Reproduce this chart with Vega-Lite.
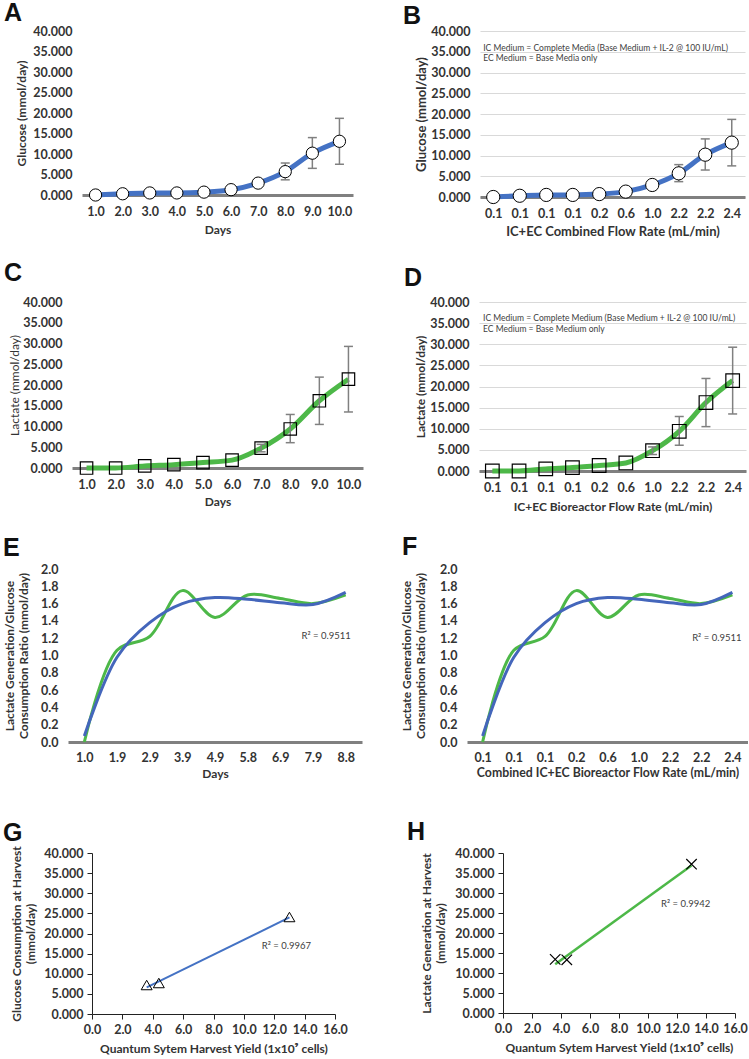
{
  "$schema": "https://vega.github.io/schema/vega-lite/v6.json",
  "padding": {"left": 3, "top": 1, "right": 0, "bottom": 0},
  "datasets": {
    "glucose": [
      {"i": 1, "v": 0.0},
      {"i": 2, "v": 0.3},
      {"i": 3, "v": 0.5},
      {"i": 4, "v": 0.5},
      {"i": 5, "v": 0.7},
      {"i": 6, "v": 1.3},
      {"i": 7, "v": 2.9},
      {"i": 8, "v": 5.7, "lo": 3.7, "hi": 7.8},
      {"i": 9, "v": 10.2, "lo": 6.5, "hi": 14.0},
      {"i": 10, "v": 13.1, "lo": 7.5, "hi": 18.7}
    ],
    "lactate": [
      {"i": 1, "v": 0.0},
      {"i": 2, "v": 0.0},
      {"i": 3, "v": 0.5},
      {"i": 4, "v": 0.8},
      {"i": 5, "v": 1.3},
      {"i": 6, "v": 1.9},
      {"i": 7, "v": 4.8, "lo": 3.9, "hi": 5.7},
      {"i": 8, "v": 9.4, "lo": 6.1, "hi": 12.9},
      {"i": 9, "v": 16.2, "lo": 10.5, "hi": 21.9},
      {"i": 10, "v": 21.4, "lo": 13.5, "hi": 29.3}
    ],
    "gridLevels": [
      {"gy": 5}, {"gy": 10}, {"gy": 15}, {"gy": 20}, {"gy": 25}, {"gy": 30}, {"gy": 35}, {"gy": 40}
    ],
    "ratio": [
      {"i": 1, "g": 0.0, "b": 0.07},
      {"i": 2, "g": 1.06, "b": 0.98},
      {"i": 3, "g": 1.22, "b": 1.38},
      {"i": 4, "g": 1.75, "b": 1.6},
      {"i": 5, "g": 1.44, "b": 1.67},
      {"i": 6, "g": 1.7, "b": 1.65},
      {"i": 7, "g": 1.66, "b": 1.61},
      {"i": 8, "g": 1.6, "b": 1.59},
      {"i": 9, "g": 1.7, "b": 1.73}
    ],
    "harvestG": [
      {"x": 3.6, "v": 7.2},
      {"x": 4.4, "v": 7.7},
      {"x": 13.0, "v": 24.1}
    ],
    "trendG": [
      {"x": 3.6, "v": 6.6},
      {"x": 13.0, "v": 24.0}
    ],
    "harvestH": [
      {"x": 3.6, "v": 13.4},
      {"x": 4.4, "v": 13.3},
      {"x": 13.0, "v": 37.2}
    ],
    "trendH": [
      {"x": 3.6, "v": 12.2},
      {"x": 13.0, "v": 36.9}
    ]
  },
  "concat": [
    {
      "concat": [
        {
          "concat": [
            {
              "width": 285, "height": 164,
              "title": {"text": "A", "dx": -11, "offset": -1},
              "data": {"name": "glucose"},
              "encoding": {
                "x": {"field": "i", "type": "quantitative", "title": "Days",
                  "scale": {"domain": [0.5, 10.5], "range": [14, 285], "nice": false, "zero": false},
                  "axis": {"values": [1, 2, 3, 4, 5, 6, 7, 8, 9, 10], "tickCount": 50, "labelExpr": "format(datum.value, '.1f')", "domain": true, "domainColor": "#808080", "domainWidth": 3, "labelPadding": 10, "titlePadding": 7}}
              },
              "layer": [
                {"data": {"name": "gridLevels"}, "mark": {"type": "rule", "color": "#d9d9d9", "strokeWidth": 1},
                 "encoding": {"y": {"field": "gy", "type": "quantitative", "title": "Glucose (mmol/day)", "scale": {"domain": [0, 40], "nice": false},
                   "axis": {"values": [0, 5, 10, 15, 20, 25, 30, 35, 40], "tickCount": 50, "format": ".3f", "offset": -14, "minExtent": 49, "maxExtent": 49, "labelPadding": 10, "titlePadding": 5}},
                   "x": {"datum": 0.5}, "x2": {"datum": 10.5}}},
                {"mark": {"type": "line", "color": "#4472C4", "strokeWidth": 5, "interpolate": "monotone"},
                 "encoding": {"y": {"field": "v", "type": "quantitative", "title": "Glucose (mmol/day)"}}},
                {"transform": [{"filter": "isValid(datum.hi)"}], "mark": {"type": "rule", "color": "#808080", "strokeWidth": 1.5},
                 "encoding": {"y": {"field": "lo", "type": "quantitative", "title": "Glucose (mmol/day)"}, "y2": {"field": "hi"}}},
                {"transform": [{"filter": "isValid(datum.hi)"}], "mark": {"type": "tick", "orient": "horizontal", "color": "#808080", "size": 9, "thickness": 1.5, "opacity": 1},
                 "encoding": {"y": {"field": "hi", "type": "quantitative", "title": "Glucose (mmol/day)"}}},
                {"transform": [{"filter": "isValid(datum.hi)"}], "mark": {"type": "tick", "orient": "horizontal", "color": "#808080", "size": 9, "thickness": 1.5, "opacity": 1},
                 "encoding": {"y": {"field": "lo", "type": "quantitative", "title": "Glucose (mmol/day)"}}},
                {"mark": {"type": "point", "shape": "circle", "filled": true, "fill": "white", "stroke": "black", "strokeWidth": 1, "size": 150, "opacity": 1},
                 "encoding": {"y": {"field": "v", "type": "quantitative", "title": "Glucose (mmol/day)"}}}
              ]
            },
            {
              "width": 265, "height": 166,
              "title": {"text": "B", "dx": -12, "offset": -4},
              "data": {"name": "glucose"},
              "encoding": {
                "x": {"field": "i", "type": "quantitative", "title": "IC+EC Combined Flow Rate (mL/min)",
                  "scale": {"domain": [0.5, 10.5], "nice": false, "zero": false},
                  "axis": {"values": [1, 2, 3, 4, 5, 6, 7, 8, 9, 10], "tickCount": 50, "labelExpr": "['0.1','0.1','0.1','0.1','0.2','0.6','1.0','2.2','2.2','2.4'][datum.value-1]", "domain": true, "domainColor": "#808080", "domainWidth": 3, "labelPadding": 10, "titlePadding": 6, "titleFontSize": 13}}
              },
              "layer": [
                {"mark": {"type": "line", "color": "#4472C4", "strokeWidth": 5, "interpolate": "monotone"},
                 "encoding": {"y": {"field": "v", "type": "quantitative", "title": "Glucose (mmol/day)", "scale": {"domain": [0, 40], "nice": false},
                   "axis": {"values": [0, 5, 10, 15, 20, 25, 30, 35, 40], "tickCount": 50, "format": ".3f", "grid": true, "minExtent": 49, "maxExtent": 49, "labelPadding": 10, "titlePadding": 3, "titleFontSize": 13}}}},
                {"transform": [{"filter": "isValid(datum.hi)"}], "mark": {"type": "rule", "color": "#808080", "strokeWidth": 1.5},
                 "encoding": {"y": {"field": "lo", "type": "quantitative", "title": "Glucose (mmol/day)"}, "y2": {"field": "hi"}}},
                {"transform": [{"filter": "isValid(datum.hi)"}], "mark": {"type": "tick", "orient": "horizontal", "color": "#808080", "size": 9, "thickness": 1.5, "opacity": 1},
                 "encoding": {"y": {"field": "hi", "type": "quantitative", "title": "Glucose (mmol/day)"}}},
                {"transform": [{"filter": "isValid(datum.hi)"}], "mark": {"type": "tick", "orient": "horizontal", "color": "#808080", "size": 9, "thickness": 1.5, "opacity": 1},
                 "encoding": {"y": {"field": "lo", "type": "quantitative", "title": "Glucose (mmol/day)"}}},
                {"mark": {"type": "point", "shape": "circle", "filled": true, "fill": "white", "stroke": "black", "strokeWidth": 1, "size": 175, "opacity": 1},
                 "encoding": {"y": {"field": "v", "type": "quantitative", "title": "Glucose (mmol/day)"}}},
                {"data": {"values": [
                    {"i": 0.62, "v": 35.9, "t": "IC Medium = Complete Media (Base Medium + IL-2 @ 100 IU/mL)"},
                    {"i": 0.62, "v": 33.4, "t": "EC Medium = Base Media only"}]},
                 "mark": {"type": "text", "align": "left", "baseline": "middle", "font": "Lato", "fontSize": 8.5, "color": "#404040"},
                 "encoding": {"y": {"field": "v", "type": "quantitative", "title": "Glucose (mmol/day)"}, "text": {"field": "t"}}}
              ]
            }
          ],
          "columns": 2, "align": "none", "spacing": 50
        },
        {
          "concat": [
            {
              "width": 295, "height": 166,
              "title": {"text": "C", "dx": -4, "offset": 10},
              "data": {"name": "lactate"},
              "encoding": {
                "x": {"field": "i", "type": "quantitative", "title": "Days",
                  "scale": {"domain": [0.5, 10.5], "range": [4, 295], "nice": false, "zero": false},
                  "axis": {"values": [1, 2, 3, 4, 5, 6, 7, 8, 9, 10], "tickCount": 50, "labelExpr": "format(datum.value, '.1f')", "domain": true, "domainColor": "#808080", "domainWidth": 3, "labelPadding": 10, "titlePadding": 6}}
              },
              "layer": [
                {"data": {"name": "gridLevels"}, "mark": {"type": "rule", "color": "#d9d9d9", "strokeWidth": 1},
                 "encoding": {"y": {"field": "gy", "type": "quantitative", "title": "Lactate (mmol/day)", "scale": {"domain": [0, 40], "nice": false},
                   "axis": {"values": [0, 5, 10, 15, 20, 25, 30, 35, 40], "tickCount": 50, "format": ".3f", "offset": -4, "minExtent": 49, "maxExtent": 49, "labelPadding": 10, "titlePadding": 2, "titleFontWeight": "normal"}},
                   "x": {"datum": 0.5}, "x2": {"datum": 10.5}}},
                {"mark": {"type": "line", "color": "#4DB848", "strokeWidth": 5, "interpolate": "monotone"},
                 "encoding": {"y": {"field": "v", "type": "quantitative", "title": "Lactate (mmol/day)"}}},
                {"transform": [{"filter": "isValid(datum.hi)"}], "mark": {"type": "rule", "color": "#808080", "strokeWidth": 1.5},
                 "encoding": {"y": {"field": "lo", "type": "quantitative", "title": "Lactate (mmol/day)"}, "y2": {"field": "hi"}}},
                {"transform": [{"filter": "isValid(datum.hi)"}], "mark": {"type": "tick", "orient": "horizontal", "color": "#808080", "size": 9, "thickness": 1.5, "opacity": 1},
                 "encoding": {"y": {"field": "hi", "type": "quantitative", "title": "Lactate (mmol/day)"}}},
                {"transform": [{"filter": "isValid(datum.hi)"}], "mark": {"type": "tick", "orient": "horizontal", "color": "#808080", "size": 9, "thickness": 1.5, "opacity": 1},
                 "encoding": {"y": {"field": "lo", "type": "quantitative", "title": "Lactate (mmol/day)"}}},
                {"mark": {"type": "point", "shape": "square", "filled": false, "stroke": "black", "strokeWidth": 1.2, "size": 155, "opacity": 1},
                 "encoding": {"y": {"field": "v", "type": "quantitative", "title": "Lactate (mmol/day)"}}}
              ]
            },
            {
              "width": 267, "height": 169,
              "title": {"text": "D", "dx": -10, "offset": 5},
              "data": {"name": "lactate"},
              "encoding": {
                "x": {"field": "i", "type": "quantitative", "title": "IC+EC Bioreactor Flow Rate (mL/min)",
                  "scale": {"domain": [0.5, 10.5], "nice": false, "zero": false},
                  "axis": {"values": [1, 2, 3, 4, 5, 6, 7, 8, 9, 10], "tickCount": 50, "labelExpr": "['0.1','0.1','0.1','0.1','0.2','0.6','1.0','2.2','2.2','2.4'][datum.value-1]", "domain": true, "domainColor": "#808080", "domainWidth": 3, "labelPadding": 10, "titlePadding": 8}}
              },
              "layer": [
                {"mark": {"type": "line", "color": "#4DB848", "strokeWidth": 5, "interpolate": "monotone"},
                 "encoding": {"y": {"field": "v", "type": "quantitative", "title": "Lactate (mmol/day)", "scale": {"domain": [0, 40], "nice": false},
                   "axis": {"values": [0, 5, 10, 15, 20, 25, 30, 35, 40], "tickCount": 50, "format": ".3f", "grid": true, "minExtent": 50, "maxExtent": 50, "labelPadding": 10, "titlePadding": 2}}}},
                {"transform": [{"filter": "isValid(datum.hi)"}], "mark": {"type": "rule", "color": "#808080", "strokeWidth": 1.5},
                 "encoding": {"y": {"field": "lo", "type": "quantitative", "title": "Lactate (mmol/day)"}, "y2": {"field": "hi"}}},
                {"transform": [{"filter": "isValid(datum.hi)"}], "mark": {"type": "tick", "orient": "horizontal", "color": "#808080", "size": 9, "thickness": 1.5, "opacity": 1},
                 "encoding": {"y": {"field": "hi", "type": "quantitative", "title": "Lactate (mmol/day)"}}},
                {"transform": [{"filter": "isValid(datum.hi)"}], "mark": {"type": "tick", "orient": "horizontal", "color": "#808080", "size": 9, "thickness": 1.5, "opacity": 1},
                 "encoding": {"y": {"field": "lo", "type": "quantitative", "title": "Lactate (mmol/day)"}}},
                {"mark": {"type": "point", "shape": "square", "filled": false, "stroke": "black", "strokeWidth": 1.2, "size": 185, "opacity": 1},
                 "encoding": {"y": {"field": "v", "type": "quantitative", "title": "Lactate (mmol/day)"}}},
                {"data": {"values": [
                    {"i": 0.65, "v": 36.2, "t": "IC Medium = Complete Medium (Base Medium + IL-2 @ 100 IU/mL)"},
                    {"i": 0.65, "v": 33.6, "t": "EC Medium = Base Medium only"}]},
                 "mark": {"type": "text", "align": "left", "baseline": "middle", "font": "Lato", "fontSize": 8.5, "color": "#404040"},
                 "encoding": {"y": {"field": "v", "type": "quantitative", "title": "Lactate (mmol/day)"}, "text": {"field": "t"}}}
              ]
            }
          ],
          "columns": 2, "align": "none", "spacing": 41
        },
        {
          "concat": [
            {
              "width": 294, "height": 173,
              "title": {"text": "E", "dx": 0, "offset": 2},
              "data": {"name": "ratio"},
              "encoding": {
                "x": {"field": "i", "type": "quantitative", "title": "Days",
                  "scale": {"domain": [0.5, 9.5], "nice": false, "zero": false},
                  "axis": {"values": [1, 2, 3, 4, 5, 6, 7, 8, 9], "tickCount": 50, "labelExpr": "['1.0','1.9','2.9','3.9','4.9','5.8','6.9','7.9','8.8'][datum.value-1]", "domain": true, "domainColor": "#808080", "domainWidth": 3, "labelPadding": 9, "titlePadding": 5}}
              },
              "layer": [
                {"mark": {"type": "line", "color": "#4DB848", "strokeWidth": 3, "interpolate": "catmull-rom"},
                 "encoding": {"y": {"field": "g", "type": "quantitative", "title": ["Lactate Generation/Glucose", "Consumption Ratio (mmol/day)"], "scale": {"domain": [0, 2], "nice": false},
                   "axis": {"values": [0, 0.2, 0.4, 0.6, 0.8, 1.0, 1.2, 1.4, 1.6, 1.8, 2.0], "tickCount": 50, "format": ".1f", "minExtent": 30, "maxExtent": 30, "labelPadding": 10, "titlePadding": 8}}}},
                {"mark": {"type": "line", "color": "#4466BB", "strokeWidth": 3, "interpolate": "catmull-rom"},
                 "encoding": {"y": {"field": "b", "type": "quantitative", "title": ["Lactate Generation/Glucose", "Consumption Ratio (mmol/day)"]}}},
                {"data": {"values": [{"i": 8.4, "v": 1.22, "t": "R² = 0.9511"}]},
                 "mark": {"type": "text", "align": "center", "baseline": "middle", "font": "Lato", "fontSize": 9.5, "color": "#404040"},
                 "encoding": {"y": {"field": "v", "type": "quantitative", "title": ["Lactate Generation/Glucose", "Consumption Ratio (mmol/day)"]}, "text": {"field": "t"}}}
              ]
            },
            {
              "width": 281, "height": 173,
              "title": {"text": "F", "dx": 2, "offset": 3},
              "data": {"name": "ratio"},
              "encoding": {
                "x": {"field": "i", "type": "quantitative", "title": "Combined IC+EC Bioreactor Flow Rate (mL/min)",
                  "scale": {"domain": [0.5, 9.5], "nice": false, "zero": false},
                  "axis": {"values": [1, 2, 3, 4, 5, 6, 7, 8, 9], "tickCount": 50, "labelExpr": "['0.1','0.1','0.1','0.2','0.6','1.0','2.2','2.2','2.4'][datum.value-1]", "domain": true, "domainColor": "#808080", "domainWidth": 3, "labelPadding": 9, "titlePadding": 3, "titleFontSize": 12.3}}
              },
              "layer": [
                {"mark": {"type": "line", "color": "#4DB848", "strokeWidth": 3, "interpolate": "catmull-rom"},
                 "encoding": {"y": {"field": "g", "type": "quantitative", "title": ["Lactate Generation/Glucose", "Consumption Ratio (mmol/day)"], "scale": {"domain": [0, 2], "nice": false},
                   "axis": {"values": [0, 0.2, 0.4, 0.6, 0.8, 1.0, 1.2, 1.4, 1.6, 1.8, 2.0], "tickCount": 50, "format": ".1f", "minExtent": 30, "maxExtent": 30, "labelPadding": 10, "titlePadding": 10}}}},
                {"mark": {"type": "line", "color": "#4466BB", "strokeWidth": 3, "interpolate": "catmull-rom"},
                 "encoding": {"y": {"field": "b", "type": "quantitative", "title": ["Lactate Generation/Glucose", "Consumption Ratio (mmol/day)"]}}},
                {"data": {"values": [{"i": 8.5, "v": 1.2, "t": "R² = 0.9511"}]},
                 "mark": {"type": "text", "align": "center", "baseline": "middle", "font": "Lato", "fontSize": 9.5, "color": "#404040"},
                 "encoding": {"y": {"field": "v", "type": "quantitative", "title": ["Lactate Generation/Glucose", "Consumption Ratio (mmol/day)"]}, "text": {"field": "t"}}}
              ]
            }
          ],
          "columns": 2, "align": "none", "spacing": 38
        }
      ],
      "columns": 1, "align": "none", "spacing": 22
    },
    {
      "concat": [
        {
          "width": 267, "height": 161,
          "title": {"text": "G", "dx": -7, "offset": 0},
          "data": {"name": "harvestG"},
          "encoding": {
            "x": {"field": "x", "type": "quantitative", "title": "Quantum Sytem Harvest Yield (1x10⁹ cells)",
              "scale": {"domain": [0, 16], "range": [24, 267], "nice": false},
              "axis": {"values": [0, 2, 4, 6, 8, 10, 12, 14, 16], "tickCount": 50, "format": ".1f", "domain": true, "domainColor": "#222222", "ticks": true, "tickColor": "#222222", "tickSize": 5, "labelPadding": 4, "titlePadding": 8}}
          },
          "layer": [
            {"data": {"name": "trendG"}, "mark": {"type": "line", "color": "#4472C4", "strokeWidth": 2},
             "encoding": {"y": {"field": "v", "type": "quantitative", "title": ["Glucose Consumption at Harvest", "(mmol/day)"], "scale": {"domain": [0, 40], "nice": false},
               "axis": {"values": [0, 5, 10, 15, 20, 25, 30, 35, 40], "tickCount": 50, "format": ".3f", "domain": true, "domainColor": "#222222", "ticks": true, "tickColor": "#222222", "tickSize": 5, "offset": -24, "minExtent": 49, "maxExtent": 49, "labelPadding": 4, "titlePadding": 6}}}},
            {"mark": {"type": "point", "shape": "triangle-up", "filled": false, "stroke": "black", "strokeWidth": 1, "size": 120, "opacity": 1},
             "encoding": {"y": {"field": "v", "type": "quantitative", "title": ["Glucose Consumption at Harvest", "(mmol/day)"]}}},
            {"data": {"values": [{"x": 12.8, "v": 16.8, "t": "R² = 0.9967"}]},
             "mark": {"type": "text", "align": "center", "baseline": "middle", "font": "Lato", "fontSize": 9.5, "color": "#404040"},
             "encoding": {"y": {"field": "v", "type": "quantitative", "title": ["Glucose Consumption at Harvest", "(mmol/day)"]}, "text": {"field": "t"}}}
          ]
        },
        {
          "width": 232, "height": 160,
          "title": {"text": "H", "dx": -13, "offset": 2},
          "data": {"name": "harvestH"},
          "encoding": {
            "x": {"field": "x", "type": "quantitative", "title": "Quantum Sytem Harvest Yield (1x10⁹ cells)",
              "scale": {"domain": [0, 16], "nice": false},
              "axis": {"values": [0, 2, 4, 6, 8, 10, 12, 14, 16], "tickCount": 50, "format": ".1f", "domain": true, "domainColor": "#222222", "ticks": true, "tickColor": "#222222", "tickSize": 5, "labelPadding": 4, "titlePadding": 8}}
          },
          "layer": [
            {"data": {"name": "trendH"}, "mark": {"type": "line", "color": "#4DB848", "strokeWidth": 2.5},
             "encoding": {"y": {"field": "v", "type": "quantitative", "title": ["Lactate Generation at Harvest", "(mmol/day)"], "scale": {"domain": [0, 40], "nice": false},
               "axis": {"values": [0, 5, 10, 15, 20, 25, 30, 35, 40], "tickCount": 50, "format": ".3f", "domain": true, "domainColor": "#222222", "ticks": true, "tickColor": "#222222", "tickSize": 5, "minExtent": 49, "maxExtent": 49, "labelPadding": 4, "titlePadding": 7}}}},
            {"mark": {"type": "point", "shape": "M-1,-1L1,1M-1,1L1,-1", "filled": false, "stroke": "black", "strokeWidth": 1.2, "size": 110, "opacity": 1},
             "encoding": {"y": {"field": "v", "type": "quantitative", "title": ["Lactate Generation at Harvest", "(mmol/day)"]}}},
            {"data": {"values": [{"x": 12.6, "v": 27.3, "t": "R² = 0.9942"}]},
             "mark": {"type": "text", "align": "center", "baseline": "middle", "font": "Lato", "fontSize": 9.5, "color": "#404040"},
             "encoding": {"y": {"field": "v", "type": "quantitative", "title": ["Lactate Generation at Harvest", "(mmol/day)"]}, "text": {"field": "t"}}}
          ]
        }
      ],
      "columns": 2, "align": "none", "spacing": 59
    }
  ],
  "columns": 1, "align": "none", "spacing": 40,
  "config": {
    "font": "Lato",
    "view": {"stroke": null},
    "title": {"anchor": "start", "frame": "bounds", "font": "Liberation Sans", "fontSize": 25, "fontWeight": "bold", "color": "#111111"},
    "axis": {
      "labelFont": "Lato", "labelFontSize": 12.5, "labelFontWeight": "bold", "labelColor": "#333333",
      "titleFont": "Lato", "titleFontSize": 12, "titleFontWeight": "bold", "titleColor": "#333333",
      "ticks": false, "domain": false, "grid": false, "gridColor": "#d9d9d9", "gridWidth": 1,
      "labelFlush": false, "labelOverlap": false, "labelBound": false
    }
  }
}
